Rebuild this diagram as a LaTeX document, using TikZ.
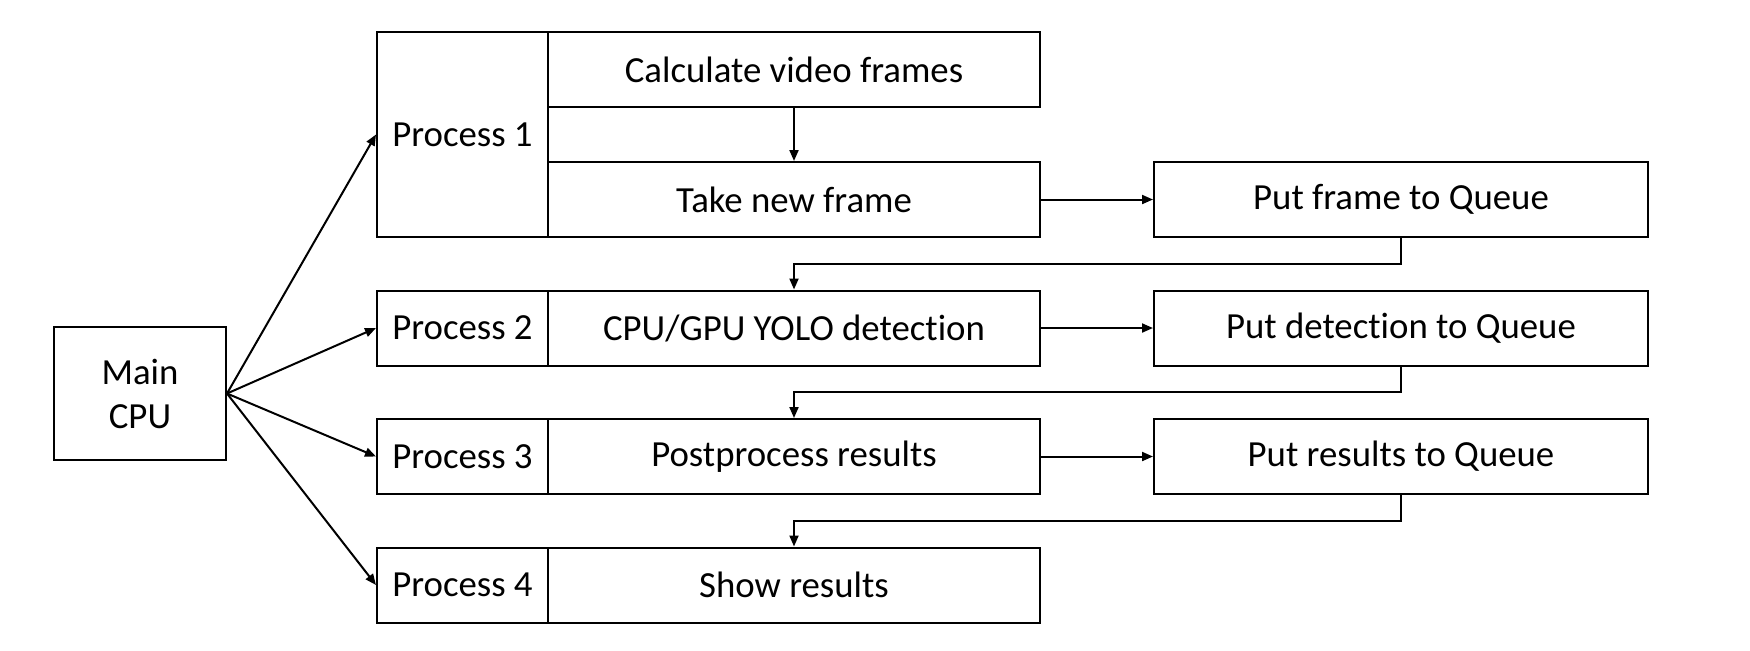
\documentclass[tikz,border=0pt]{standalone}
\usepackage{fontspec}
\setmainfont[Ligatures=NoCommon]{Carlito}
\usetikzlibrary{arrows.meta}
\begin{document}
\begin{tikzpicture}[x=0.5pt,y=-0.5pt,
  box/.style={draw=black,line width=1pt,inner sep=0pt,align=center,
    font=\fontsize{18.4}{22}\selectfont,text=black},
  pcol/.style={box,minimum width=85.5pt,minimum height=37.5pt},
  mid/.style={box,minimum width=246pt,minimum height=37.5pt},
  que/.style={box,minimum width=247pt,minimum height=37.5pt},
  arr/.style={line width=1pt,-{Triangle[length=5.5pt,width=4.5pt]}}]
\useasboundingbox (0,0) rectangle (1750,650);
% main
\node[box,minimum width=86pt,minimum height=66.5pt] (main) at (140,393.5) {Main\\CPU};
% row 1
\node[box,minimum width=85.5pt,minimum height=102.5pt] (p1) at (462.5,134.5) {Process 1};
\node[mid] (calc) at (794,69.5) {Calculate video frames};
\node[mid] (m1) at (794,199.5) {Take new frame};
\node[que] (q1) at (1401,199.5) {Put frame to Queue};
% row 2
\node[pcol] (p2) at (462.5,328) {Process 2};
\node[mid] (m2) at (794,328) {CPU/GPU YOLO detection};
\node[que] (q2) at (1401,328) {Put detection to Queue};
% row 3
\node[pcol] (p3) at (462.5,456.5) {Process 3};
\node[mid] (m3) at (794,456.5) {Postprocess results};
\node[que] (q3) at (1401,456.5) {Put results to Queue};
% row 4
\node[pcol] (p4) at (462.5,585) {Process 4};
\node[mid] (m4) at (794,585) {Show results};
% bend levels
\coordinate (b1) at (0,263.5);
\coordinate (b2) at (0,392);
\coordinate (b3) at (0,520.5);
% connectors
\draw[arr] (main.east) -- (p1.west);
\draw[arr] (main.east) -- (p2.west);
\draw[arr] (main.east) -- (p3.west);
\draw[arr] (main.east) -- (p4.west);
\draw[arr] (calc.south) -- (m1.north);
\draw[arr] (m1.east) -- (q1.west);
\draw[arr] (m2.east) -- (q2.west);
\draw[arr] (m3.east) -- (q3.west);
\draw[arr] (q1.south) -- (q1.south |- b1) -| (m2.north);
\draw[arr] (q2.south) -- (q2.south |- b2) -| (m3.north);
\draw[arr] (q3.south) -- (q3.south |- b3) -| (m4.north);
\end{tikzpicture}
\end{document}
